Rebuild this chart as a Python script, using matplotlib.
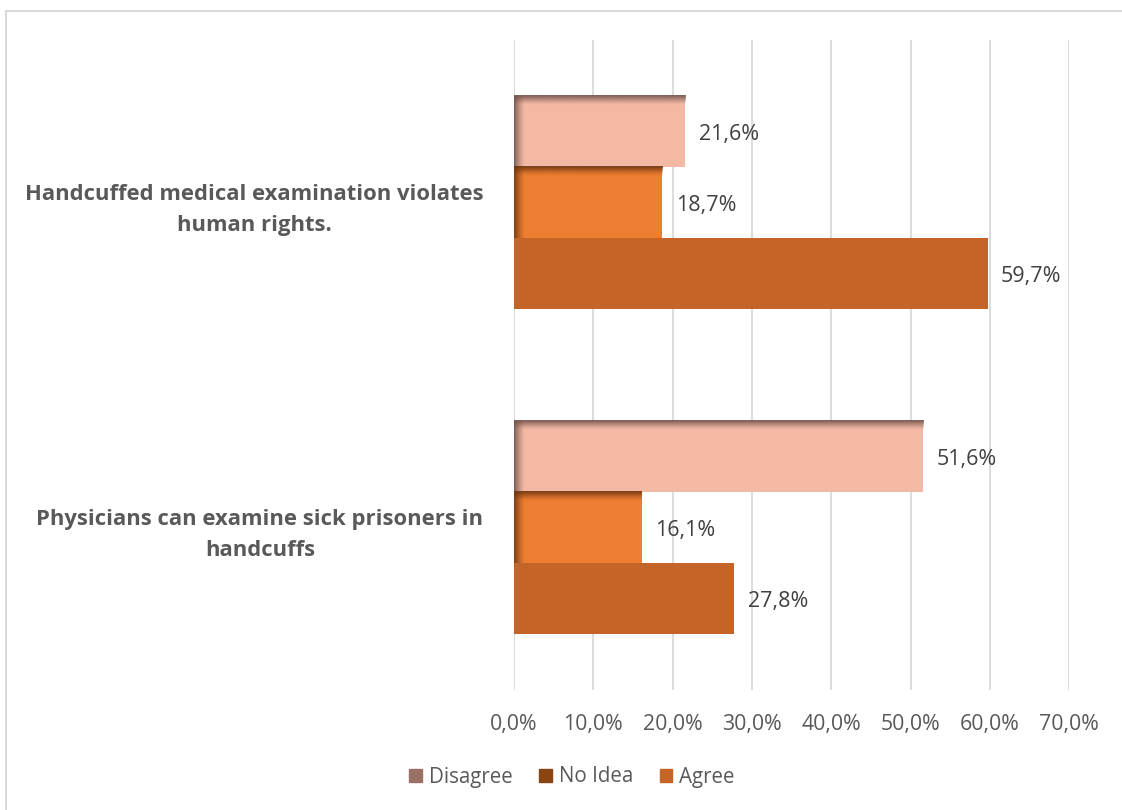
import numpy as np
import matplotlib.pyplot as plt
from matplotlib.patches import Rectangle
from matplotlib.colors import to_rgb

plt.rcParams['font.family'] = ['Open Sans', 'DejaVu Sans']

# survey statements (bottom to top) and answer shares in %
statements = ['Physicians can examine sick prisoners in\nhandcuffs',
              'Handcuffed medical examination violates\nhuman rights.']
series = ['Disagree', 'No Idea', 'Agree']
disagree = [51.6, 21.6]
no_idea = [16.1, 18.7]
agree = [27.8, 59.7]
xticks = [0, 10, 20, 30, 40, 50, 60, 70]

colors = {'Disagree': '#F4B9A5', 'No Idea': '#ED7D31', 'Agree': '#C46427'}
shade = {'Disagree': '#6E5048', 'No Idea': '#6B3410', 'Agree': None}
legend_cols = {'Disagree': '#9A7066', 'No Idea': '#8A4515', 'Agree': '#C46427'}
values = {'Disagree': disagree, 'No Idea': no_idea, 'Agree': agree}
offsets = {'Disagree': 0.218, 'No Idea': 0.0, 'Agree': -0.218}
h = 0.218

fig = plt.figure(figsize=(11.22, 8.1), dpi=100)
ax = fig.add_axes([0.458, 0.148, 0.495, 0.803])

# light chart frame
fig.patches.append(Rectangle((6 / 1122, -0.01), 1.2, (810 - 11) / 810 + 0.01,
                             transform=fig.transFigure, fill=False,
                             edgecolor='#D9D9D9', linewidth=1.5))

ypos = np.arange(len(statements))
px_x = 70 / 555.0   # data units per pixel along x
px_y = 2 / 650.0    # data units per pixel along y


def inner_shadow(x0, width, yc, color, top_px=9, left_px=10):
    rgb = to_rgb(color)
    ytop = yc + h / 2
    n = 32
    # top shadow gradient
    grad = np.zeros((n, 1, 4))
    grad[..., :3] = rgb
    grad[:, 0, 3] = np.linspace(0.95, 0, n) ** 1.3
    ax.imshow(grad, extent=[x0, x0 + width, ytop - top_px * px_y, ytop],
              aspect='auto', origin='upper', zorder=3, interpolation='bilinear')
    # left shadow gradient
    grad2 = np.zeros((1, n, 4))
    grad2[..., :3] = rgb
    grad2[0, :, 3] = np.linspace(0.9, 0, n) ** 1.3
    ax.imshow(grad2, extent=[x0, x0 + left_px * px_x, yc - h / 2, ytop],
              aspect='auto', origin='upper', zorder=3, interpolation='bilinear')


for name in series:
    vals = values[name]
    ax.barh(ypos + offsets[name], vals, height=h, color=colors[name],
            zorder=2, label=name)
    for i, v in enumerate(vals):
        if shade[name]:
            inner_shadow(0, v, ypos[i] + offsets[name], shade[name])
        ax.text(v + 1.7, ypos[i] + offsets[name] - 0.01, f'{v:.1f}%'.replace('.', ','),
                va='center', ha='left', fontsize=15.5, color='#404040')

ax.set_xlim(0, 70)
ax.set_ylim(-0.5, 1.5)
ax.set_xticks(xticks)
ax.set_xticklabels([f'{t:.1f}%'.replace('.', ',') for t in xticks],
                   fontsize=15.3, color='#595959')
ax.set_yticks(ypos)
ax.set_yticklabels(statements, fontsize=15.8, fontweight='bold', color='#595959',
                   linespacing=1.65)
for lbl in ax.get_yticklabels():
    lbl.set_multialignment('center')
ax.tick_params(axis='x', length=0, pad=17)
ax.tick_params(axis='y', length=0, pad=22)
ax.grid(axis='x', color='#D9D9D9', linewidth=1.3, zorder=0)
ax.set_axisbelow(True)
for s in ax.spines.values():
    s.set_visible(False)

handles = [Rectangle((0, 0), 1, 1, color=legend_cols[n]) for n in series]
fig.legend(handles, series, loc='center', bbox_to_anchor=(572 / 1122, 1 - 777 / 810),
           ncol=3, frameon=False, fontsize=14.8, handlelength=0.6, handleheight=0.6,
           handletextpad=0.35, columnspacing=1.3, labelcolor='#595959')

fig.savefig('out.png', dpi=100)
